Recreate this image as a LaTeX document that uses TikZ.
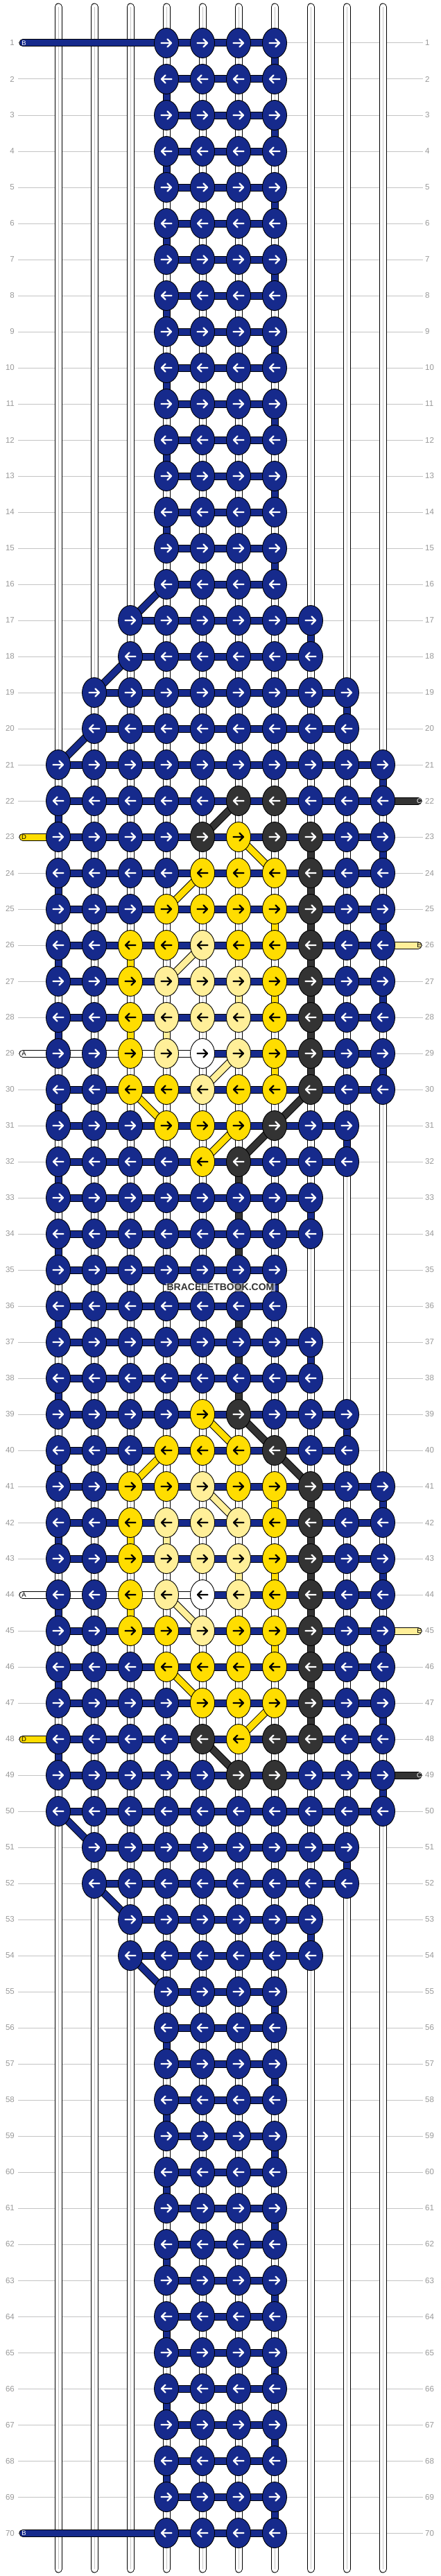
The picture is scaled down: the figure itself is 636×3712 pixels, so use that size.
\documentclass[tikz,border=0pt]{standalone}
\usepackage{fontspec}
\setmainfont{Liberation Sans}
\usepackage{xcolor}
\usepackage{tikz}
\usetikzlibrary{shapes.geometric, positioning, calc}

\definecolor{fillb}{HTML}{162A8C}
\definecolor{filly}{HTML}{FFDD00}
\definecolor{filll}{HTML}{FFEF99}
\definecolor{fillk}{HTML}{333333}
\definecolor{fillw}{HTML}{FFFFFF}
\colorlet{arrb}{white}
\colorlet{arrk}{white}
\colorlet{arry}{black}
\colorlet{arrl}{black}
\colorlet{arrw}{black}
\definecolor{gridgray}{HTML}{C4C4C4}
\definecolor{labelgray}{HTML}{999999}

\tikzset{
  knot/.style={ellipse, draw=black, line width=0.9pt, minimum width=35pt, minimum height=43pt, inner sep=0pt},
  bar/.style={draw=black, line width=1pt, double=#1, double distance=9pt},
  tube/.style={draw=black, line width=1pt, double=white, double distance=9pt, line cap=round},
  tubemid/.style={draw=black!22, line width=0.8pt},
  rowline/.style={draw=gridgray, line width=1pt},
  rowlabel/.style={text=labelgray, font=\fontsize{11.5}{12}\selectfont, inner sep=0pt},
  endlabel/.style={font=\fontsize{9.5}{10}\selectfont, inner sep=0pt},
  knotarrow/.style={line width=2.2pt, line cap=round, line join=round}
}

\def\rowspans{1/16/4/7/3, 17/18/3/8/2, 19/20/2/9/1, 21/30/1/10/1, 31/32/1/9/1, 33/34/1/8/1, 35/36/1/7/1, 37/38/1/8/1, 39/40/1/9/1, 41/50/1/10/2, 51/52/2/9/3, 53/54/3/8/4, 55/70/4/7/0}
\def\motifknots{22/{6/k,7/k}, 23/{5/k,6/y,7/k,8/k}, 24/{5/y,6/y,7/y,8/k}, 25/{4/y,5/y,6/y,7/y,8/k}, 26/{3/y,4/y,5/l,6/y,7/y,8/k}, 27/{3/y,4/l,5/l,6/l,7/y,8/k}, 28/{3/y,4/l,5/l,6/l,7/y,8/k}, 29/{3/y,4/l,5/w,6/l,7/y,8/k}, 30/{3/y,4/y,5/l,6/y,7/y,8/k}, 31/{4/y,5/y,6/y,7/k}, 32/{5/y,6/k}, 39/{5/y,6/k}, 40/{4/y,5/y,6/y,7/k}, 41/{3/y,4/y,5/l,6/y,7/y,8/k}, 42/{3/y,4/l,5/l,6/l,7/y,8/k}, 43/{3/y,4/l,5/l,6/l,7/y,8/k}, 44/{3/y,4/l,5/w,6/l,7/y,8/k}, 45/{3/y,4/y,5/l,6/y,7/y,8/k}, 46/{4/y,5/y,6/y,7/y,8/k}, 47/{5/y,6/y,7/y,8/k}, 48/{5/k,6/y,7/k,8/k}, 49/{6/k,7/k}}

\begin{document}
\begin{tikzpicture}[x=1pt, y=-1pt]
  \useasboundingbox (0,0) rectangle (636,3712);
  \fill[white] (0,0) rectangle (636,3712);

  \foreach \r in {1,...,70} {
    \pgfmathsetmacro\y{62+52*(\r-1)}
    \draw[rowline] (26,\y) -- (610,\y);
    \node[rowlabel, anchor=east] (nl\r) at (21,\y) {\r};
    \node[rowlabel, anchor=west] (nr\r) at (613,\y) {\r};
  }

  \foreach \c in {1,...,10} {
    \pgfmathsetmacro\x{84+52*(\c-1)}
    \draw[tube] (\x,10) -- (\x,3702);
    \draw[tubemid] (\x,10) -- (\x,3702);
    \foreach \r in {1,...,70}
      \coordinate (p\r-\c) at (\x,{62+52*(\r-1)});
  }

  \foreach \ra/\rb/\L/\R/\Ln in \rowspans {
    \foreach \r in {\ra,...,\rb} {
      \pgfmathtruncatemacro\rn{\r+1}
      \pgfmathtruncatemacro\Rm{\R-1}
      \foreach \c in {\L,...,\Rm} {
        \pgfmathtruncatemacro\cn{\c+1}
        \draw[bar=fillb] (p\r-\c) -- (p\r-\cn);
      }
      \ifodd\r
        \draw[bar=fillb] (p\r-\R) -- (p\rn-\R);
      \else\ifnum\r<70
        \pgfmathtruncatemacro\tc{\r<\rb ? \L : \Ln}
        \draw[bar=fillb] (p\r-\L) -- (p\rn-\tc);
      \fi\fi
    }
  }

  \foreach \r/\c/\k/\x in {1/4/b/33, 70/4/b/33, 23/1/y/33, 48/1/y/33, 29/1/w/33, 44/1/w/33, 22/10/k/603, 49/10/k/603, 26/10/l/603, 45/10/l/603} {
    \coordinate (end\r) at (\x,{62+52*(\r-1)});
    \draw[bar=fill\k, line cap=round] (end\r) -- (p\r-\c);
  }
  \foreach \r in {29,44}
    \foreach \c/\cn in {1/2,2/3,3/4,4/5}
      \draw[bar=fillw] (p\r-\c) -- (p\r-\cn);

  \foreach \r/\c/\k in {23/8/k, 24/8/k, 25/7/y, 25/8/k, 26/3/y, 26/8/k, 27/6/l, 27/7/y, 27/8/k, 28/3/y, 28/4/l, 28/8/k, 29/7/y, 29/8/k, 32/6/k, 33/6/k, 34/6/k, 35/6/k, 36/6/k, 37/6/k, 38/6/k, 41/7/y, 41/8/k, 42/3/y, 42/4/l, 42/8/k, 43/6/l, 43/7/y, 43/8/k, 44/3/y, 44/8/k, 45/7/y, 45/8/k, 46/8/k, 47/8/k} {
    \pgfmathtruncatemacro\rn{\r+1}
    \draw[bar=fill\k] (p\r-\c) -- (p\rn-\c);
  }
  \foreach \r/\c/\cn/\k in {22/6/5/k, 23/6/7/y, 24/5/4/y, 26/5/4/l, 29/6/5/l, 30/3/4/y, 30/8/7/k, 31/6/5/y, 31/7/6/k, 39/5/6/y, 39/6/7/k, 40/4/3/y, 40/7/8/k, 41/5/6/l, 44/4/5/l, 46/4/5/y, 47/7/6/y, 48/5/6/k} {
    \pgfmathtruncatemacro\rn{\r+1}
    \draw[bar=fill\k] (p\r-\c) -- (p\rn-\cn);
  }

  \foreach \r/\lst in \motifknots {
    \foreach \c/\k in \lst {\expandafter\xdef\csname kc\r-\c\endcsname{\k}}
  }
  \foreach \ra/\rb/\L/\R/\Ln in \rowspans {
    \foreach \r in {\ra,...,\rb} {
      \pgfmathsetmacro\d{isodd(\r) ? 1 : -1}
      \foreach \c in {\L,...,\R} {
        \edef\k{\ifcsname kc\r-\c\endcsname\csname kc\r-\c\endcsname\else b\fi}
        \node[knot, fill=fill\k] (k\r-\c) at (p\r-\c) {};
        \draw[knotarrow, draw=arr\k, shift={(p\r-\c)}, xscale=\d] (-7.5,0) -- (7,0) (1.5,-5.5) -- (7,0) -- (1.5,5.5);
      }
    }
  }

  \foreach \r/\t/\tc in {1/B/white, 70/B/white, 23/D/black, 48/D/black, 29/A/black, 44/A/black, 22/C/white, 49/C/white, 26/E/black, 45/E/black}
    \node[endlabel, text=\tc] (lab\r) at ([xshift=1.5pt]end\r) {\t};

  \node[font=\bfseries\fontsize{14}{14}\selectfont, text=fillk, fill=white, fill opacity=0.55, text opacity=1, inner xsep=2pt, inner ysep=1.5pt] (wm) at (318,1855) {BRACELETBOOK.COM};
\end{tikzpicture}
\end{document}
